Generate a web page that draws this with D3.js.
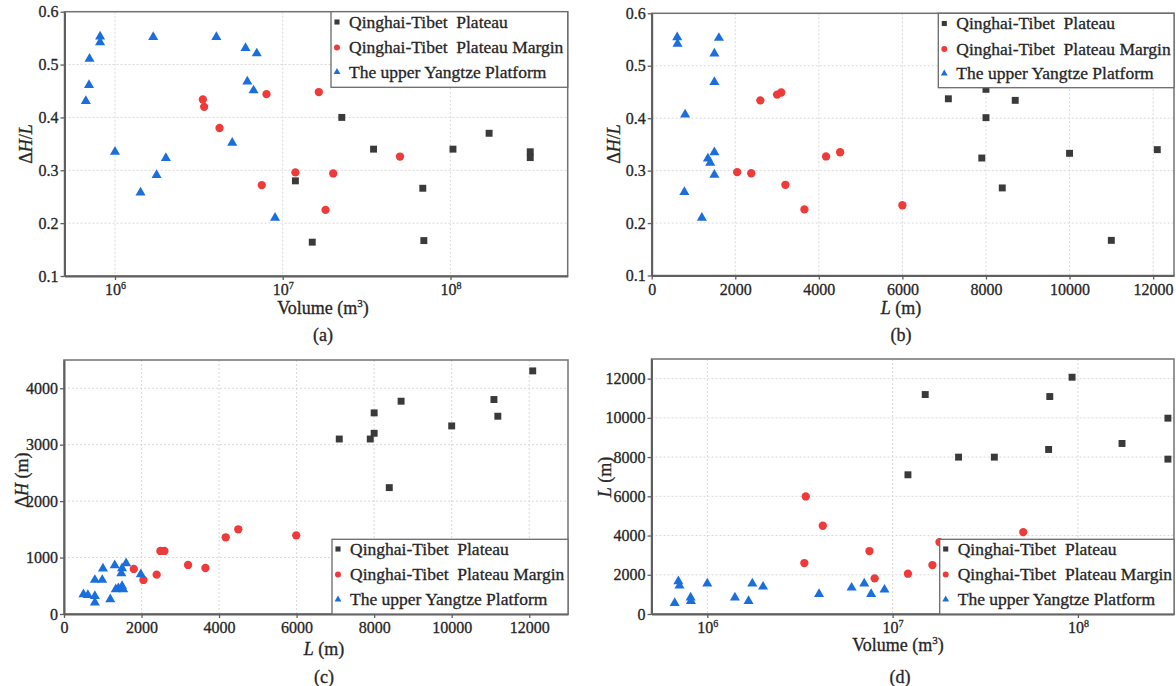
<!DOCTYPE html>
<html>
<head>
<meta charset="utf-8">
<script src="https://cdn.jsdelivr.net/npm/d3@7"></script>
<style>
  body { margin: 0; background: #ffffff; }
  svg text { font-family: "Liberation Serif", "Times New Roman", serif; fill: #262626; stroke: #262626; stroke-width: 0.3px; }
</style>
</head>
<body>
<svg id="fig" width="1176" height="686"></svg>
<script>
// ---- series names and tick values ----
const seriesNames = ["Qinghai-Tibet  Plateau", "Qinghai-Tibet  Plateau Margin", "The upper Yangtze Platform"];
const ratioTicks = [0.1, 0.2, 0.3, 0.4, 0.5, 0.6];
const volumeTicks = [1e6, 1e7, 1e8];
const lengthTicks = [0, 2000, 4000, 6000, 8000, 10000, 12000];
const dropTicks = [0, 1000, 2000, 3000, 4000];

// ---- (a) volume (m3) vs ΔH/L ----
const aPlateau = [[1.19e7, 0.280], [1.5e7, 0.164], [2.25e7, 0.400], [3.48e7, 0.340], [6.84e7, 0.266],
  [6.94e7, 0.167], [1.035e8, 0.340], [1.70e8, 0.370], [2.99e8, 0.335], [2.99e8, 0.324]];
const aMargin = [[3.34e6, 0.434], [3.4e6, 0.420], [4.2e6, 0.380], [7.5e6, 0.272], [8.0e6, 0.444],
  [1.19e7, 0.296], [1.64e7, 0.448], [1.80e7, 0.225], [2.0e7, 0.294], [5.0e7, 0.326]];
const aYangtze = [[6.7e5, 0.431], [7.0e5, 0.461], [7.05e5, 0.511], [8.15e5, 0.553], [8.15e5, 0.542],
  [1.0e6, 0.335], [1.42e6, 0.258], [1.69e6, 0.552], [1.77e6, 0.291], [2.01e6, 0.323], [4.02e6, 0.552],
  [5.0e6, 0.352], [6.0e6, 0.531], [6.15e6, 0.468], [6.7e6, 0.451], [7.0e6, 0.521], [9.0e6, 0.210]];

// ---- (b) L (m) vs ΔH/L ----
const bPlateau = [[7100, 0.437], [8000, 0.455], [8700, 0.434], [8000, 0.401], [7900, 0.324],
  [8390, 0.267], [10000, 0.333], [11000, 0.167], [12100, 0.340]];
const bMargin = [[2045, 0.297], [2382, 0.295], [2600, 0.434], [3000, 0.445], [3100, 0.449],
  [3200, 0.273], [3655, 0.226], [4173, 0.327], [4509, 0.335], [6000, 0.234]];
const bYangtze = [[610, 0.554], [618, 0.542], [800, 0.407], [782, 0.259], [1200, 0.210], [1345, 0.323],
  [1400, 0.315], [1500, 0.335], [1500, 0.292], [1500, 0.469], [1500, 0.523], [1609, 0.553]];

// ---- (c) L (m) vs ΔH (m) ----
const cPlateau = [[7100, 3100], [7900, 3100], [8000, 3563], [8000, 3202], [8390, 2239],
  [8695, 3770], [10000, 3332], [11090, 3800], [11190, 3504], [12090, 4307]];
const cMargin = [[1800, 798], [2048, 603], [2390, 697], [2486, 1117], [2590, 1117],
  [3200, 869], [3648, 815], [4171, 1359], [4495, 1501], [5990, 1394]];
const cYangtze = [[502, 349], [616, 337], [796, 603], [796, 319], [796, 201], [986, 603], [1005, 804],
  [1194, 260], [1308, 863], [1336, 437], [1403, 455], [1479, 721], [1498, 809], [1498, 496],
  [1526, 437], [1602, 898], [1981, 703]];

// ---- (d) volume (m3) vs L (m) ----
const dPlateau = [[1.21e7, 7097], [1.50e7, 11188], [2.27e7, 7997], [3.54e7, 7997], [6.95e7, 8387],
  [7.05e7, 11087], [9.3e7, 12071], [1.73e8, 8693], [3.06e8, 9983], [3.06e8, 7895]];
const dMargin = [[3.34e6, 2598], [3.40e6, 5993], [4.2e6, 4499], [7.5e6, 3209], [8.0e6, 1817],
  [1.21e7, 2054], [1.64e7, 2496], [1.79e7, 3667], [5.07e7, 4177]];
const dYangtze = [[6.67e5, 560], [6.98e5, 1664], [7.08e5, 1443], [8.13e5, 832], [8.16e5, 662],
  [1.0e6, 1545], [1.41e6, 832], [1.67e6, 662], [1.75e6, 1545], [2.0e6, 1392], [4.01e6, 1019],
  [6.01e6, 1341], [7.03e6, 1545], [7.66e6, 1019], [9.04e6, 1239]];

// ---- marker styling per series ----
const seriesColors = ["#3a3a3a", "#ef3a3a", "#1b6fdc"];
const seriesShapes = [d3.symbolSquare, d3.symbolCircle, d3.symbolTriangle];
const markerSizes = [48, 54, 44];
const legendSizes = [26, 28, 20];

const svg = d3.select("#fig");
svg.append("rect").attr("width", 1176).attr("height", 686).attr("fill", "#ffffff");

// axis titles with italic symbols and superscripts
function writeTitle(sel, kind) {
  if (kind === "volume") {
    sel.append("tspan").text("Volume (m");
    sel.append("tspan").attr("dy", -7).attr("font-size", 11).text("3");
    sel.append("tspan").attr("dy", 7).text(")");
  } else if (kind === "L") {
    sel.append("tspan").attr("font-style", "italic").text("L");
    sel.append("tspan").text(" (m)");
  } else if (kind === "ratio") {
    sel.append("tspan").text("Δ");
    sel.append("tspan").attr("font-style", "italic").text("H");
    sel.append("tspan").text("/");
    sel.append("tspan").attr("font-style", "italic").text("L");
  } else if (kind === "drop") {
    sel.append("tspan").text("Δ");
    sel.append("tspan").attr("font-style", "italic").text("H");
    sel.append("tspan").text(" (m)");
  }
}

function drawPanel(p) {
  const g = svg.append("g");
  const x = (p.xLog ? d3.scaleLog() : d3.scaleLinear()).domain(p.xDomain).range([p.left, p.right]);
  const y = d3.scaleLinear().domain(p.yDomain).range([p.bottom, p.top]);

  // dotted grid
  const grid = g.append("g").attr("stroke", "#d9d9d9").attr("stroke-width", 1).attr("stroke-dasharray", "2,2");
  grid.selectAll(".gx").data(p.xTicks).join("line")
    .attr("x1", d => x(d)).attr("x2", d => x(d)).attr("y1", p.top).attr("y2", p.bottom);
  grid.selectAll(".gy").data(p.yTicks).join("line")
    .attr("x1", p.left).attr("x2", p.right).attr("y1", d => y(d)).attr("y2", d => y(d));

  // frame
  g.append("rect").attr("x", p.left).attr("y", p.top)
    .attr("width", p.right - p.left).attr("height", p.bottom - p.top)
    .attr("fill", "none").attr("stroke", "#727272").attr("stroke-width", 1.5);

  // x axis
  const xAxis = d3.axisBottom(x).tickValues(p.xTicks).tickSize(4).tickSizeOuter(0).tickPadding(4)
    .tickFormat(p.xLog ? (d => "10") : d3.format("d"));
  const gx = g.append("g").attr("transform", `translate(0,${p.bottom})`).call(xAxis);
  if (p.xLog) {
    gx.selectAll(".tick text").each(function (d) {
      d3.select(this).append("tspan").attr("dy", -6).attr("font-size", 10).text(Math.round(Math.log10(d)));
    });
  }

  // y axis
  const yAxis = d3.axisLeft(y).tickValues(p.yTicks).tickSize(4).tickSizeOuter(0).tickPadding(2)
    .tickFormat(p.yFmt);
  const gy = g.append("g").attr("transform", `translate(${p.left},0)`).call(yAxis);

  [gx, gy].forEach(a => {
    a.attr("font-size", 16).attr("font-family", null).attr("color", "#555");
    a.select(".domain").attr("stroke", "#5f5f5f").attr("stroke-width", 2);
    a.selectAll(".tick line").attr("stroke", "#5f5f5f").attr("stroke-width", 1.3);
    a.selectAll(".tick text").style("fill", "#262626");
  });

  // markers
  p.series.forEach((pts, i) => {
    const sym = d3.symbol().type(seriesShapes[i]).size(markerSizes[i]);
    g.append("g").selectAll("path").data(pts).join("path")
      .attr("d", sym)
      .attr("transform", d => `translate(${x(d[0])},${y(d[1])})`)
      .attr("fill", seriesColors[i]);
  });

  // legend
  const lg = g.append("g");
  lg.append("rect").attr("x", p.legend[0]).attr("y", p.legend[1])
    .attr("width", p.legend[2] - p.legend[0]).attr("height", p.legend[3] - p.legend[1])
    .attr("fill", "#ffffff").attr("stroke", "#6a6a6a").attr("stroke-width", 1.3);
  seriesNames.forEach((name, i) => {
    const cy = p.legendRows[i];
    lg.append("path")
      .attr("d", d3.symbol().type(seriesShapes[i]).size(legendSizes[i]))
      .attr("transform", `translate(${p.legend[0] + 6},${cy})`)
      .attr("fill", seriesColors[i]);
    lg.append("text").attr("x", p.legend[0] + 18).attr("y", cy + 5.5)
      .attr("font-size", 17.5).style("white-space", "pre").text(name);
  });

  // axis titles
  const xt = g.append("text").attr("x", p.xTitlePos[0]).attr("y", p.xTitlePos[1])
    .attr("text-anchor", "middle").attr("font-size", 18);
  writeTitle(xt, p.xTitle);
  const yt = g.append("text")
    .attr("transform", `translate(${p.yTitlePos[0]},${p.yTitlePos[1]}) rotate(-90)`)
    .attr("text-anchor", "middle").attr("dy", "0.35em").attr("font-size", 18);
  writeTitle(yt, p.yTitle);

  // panel label
  g.append("text").attr("x", p.labelPos[0]).attr("y", p.labelPos[1])
    .attr("text-anchor", "middle").attr("font-size", 18).text(p.label);
}

drawPanel({
  left: 64.5, right: 567.7, top: 11.7, bottom: 276,
  xLog: true, xDomain: [5e5, 5e8], yDomain: [0.1, 0.6],
  xTicks: volumeTicks, yTicks: ratioTicks, yFmt: d3.format(".1f"),
  series: [aPlateau, aMargin, aYangtze],
  legend: [331, 11.7, 567.7, 87.3], legendRows: [22, 47.5, 72],
  xTitle: "volume", xTitlePos: [323, 314], yTitle: "ratio", yTitlePos: [26, 144],
  label: "(a)", labelPos: [323, 341]
});

drawPanel({
  left: 651.7, right: 1174, top: 13.3, bottom: 275.5,
  xLog: false, xDomain: [0, 12500], yDomain: [0.1, 0.6],
  xTicks: lengthTicks, yTicks: ratioTicks, yFmt: d3.format(".1f"),
  series: [bPlateau, bMargin, bYangtze],
  legend: [938.3, 13.3, 1174, 87.7], legendRows: [23.5, 49, 73.5],
  xTitle: "L", xTitlePos: [901, 314], yTitle: "ratio", yTitlePos: [614, 144],
  label: "(b)", labelPos: [901, 341]
});

drawPanel({
  left: 64, right: 568, top: 360, bottom: 614,
  xLog: false, xDomain: [0, 13000], yDomain: [0, 4500],
  xTicks: lengthTicks, yTicks: dropTicks, yFmt: d3.format("d"),
  series: [cPlateau, cMargin, cYangtze],
  legend: [332, 539.3, 568, 614], legendRows: [549, 574.5, 599.5],
  xTitle: "L", xTitlePos: [324, 655], yTitle: "drop", yTitlePos: [22, 480],
  label: "(c)", labelPos: [324, 683]
});

drawPanel({
  left: 651.5, right: 1174, top: 359, bottom: 614,
  xLog: true, xDomain: [5e5, 3.3e8], yDomain: [0, 13000],
  xTicks: volumeTicks, yTicks: lengthTicks, yFmt: d3.format("d"),
  series: [dPlateau, dMargin, dYangtze],
  legend: [939.7, 539.3, 1174, 614], legendRows: [549, 574.5, 599.5],
  xTitle: "volume", xTitlePos: [898, 651], yTitle: "L", yTitlePos: [605, 477],
  label: "(d)", labelPos: [900, 683]
});
</script>
</body>
</html>
